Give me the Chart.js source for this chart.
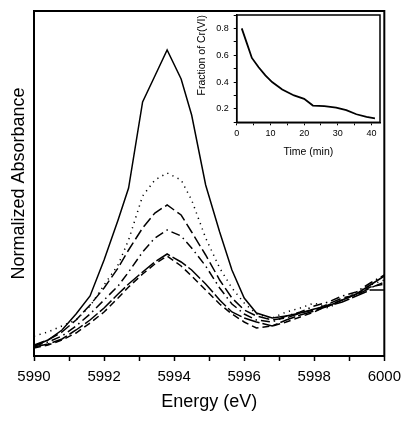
<!DOCTYPE html>
<html><head><meta charset="utf-8">
<script src="https://cdn.jsdelivr.net/npm/chart.js@4/dist/chart.umd.min.js"></script>
<style>
html,body{margin:0;padding:0;background:#fff;}
#wrap{position:relative;width:408px;height:423px;background:#fff;}
#main{position:absolute;left:0;top:0;}
#inset{position:absolute;left:185px;top:0;}
</style></head><body>
<div id="wrap">
<canvas id="main" width="408" height="423"></canvas>
<canvas id="inset" width="215" height="170"></canvas>
</div>
<script>
// ---------- data ----------
const energy = [5990.0, 5990.4, 5990.8, 5991.2, 5991.6, 5992.0, 5992.4, 5992.7, 5993.1, 5993.45, 5993.8, 5994.2, 5994.5, 5994.9, 5995.3, 5995.65, 5996.0, 5996.35, 5996.8, 5997.2, 5997.6, 5998.0, 5998.4, 5998.8, 5999.2, 5999.6, 6000.0];
const spectrum1 = [10, 16, 26, 42, 60, 96, 136, 168, 254, 280, 306, 277, 241, 171, 124, 86, 58, 43, 38, 40, 43, 47, 50, 56, 62, 71, 80];
const spectrum2 = [20, 24, 30, 36, 50, 71, 91, 116, 160, 176, 183, 176, 156, 118, 88, 68, 53, 42, 38, 44, 48, 53, 48, 56, 64, 71, 76];
const spectrum3 = [11, 16, 24, 36, 51, 68, 88, 106, 128, 143, 151, 141, 124, 101, 76, 58, 46, 40, 36, 38, 43, 46, 52, 58, 61, 68, 74];
const spectrum4 = [10, 14, 20, 30, 42, 56, 70, 84, 104, 118, 126, 120, 108, 90, 68, 52, 42, 36, 34, 40, 44, 50, 54, 60, 64, 73, 81];
const spectrum5 = [9, 12, 17, 26, 36, 48, 62, 72, 84, 94, 102, 94, 86, 72, 56, 44, 38, 34, 30, 36, 41, 45, 50, 54, 60, 66, 66];
const spectrum6 = [8, 11, 16, 23, 33, 44, 58, 69, 82, 92, 100, 90, 80, 66, 52, 42, 34, 28, 30, 34, 39, 44, 51, 56, 62, 69, 72];
const energyTickLabels = ['5990', '5992', '5994', '5996', '5998', '6000'];

const timeMin = [1.5, 3.0, 4.5, 6.5, 8.5, 10.5, 13.5, 17, 20, 22.6, 26, 29.5, 32.5, 35.5, 38.5, 41];
const fractionCrVI = [0.80, 0.69, 0.58, 0.51, 0.45, 0.40, 0.345, 0.30, 0.275, 0.225, 0.22, 0.21, 0.19, 0.16, 0.14, 0.13];
const timeTickLabels = ['0', '10', '20', '30', '40'];
const fractionTickLabels = ['0.2', '0.4', '0.6', '0.8'];

// ---------- helpers ----------
const FONT = "'Liberation Sans', Arial, Helvetica, sans-serif";
const spectra = [spectrum1, spectrum2, spectrum3, spectrum4, spectrum5, spectrum6];
const dashes = [[], [1.2, 4.5], [11, 4], [9, 4, 1.5, 4], [16, 3], [7, 4]];
const pairs = (xs, ys) => xs.map((x, i) => ({x: x, y: ys[i]}));

const boxPlugin = (w) => ({
  id: 'box' + w,
  afterDraw(chart) {
    const a = chart.chartArea, c = chart.ctx;
    c.save();
    c.strokeStyle = '#000';
    c.lineWidth = w;
    c.strokeRect(a.left, a.top, a.right - a.left, a.bottom - a.top);
    c.restore();
  }
});

// ---------- main chart ----------
new Chart(document.getElementById('main'), {
  type: 'line',
  data: {
    datasets: spectra.map((s, i) => ({
      data: pairs(energy, s),
      borderColor: '#000',
      borderWidth: 1.5,
      borderDash: dashes[i],
      pointRadius: 0,
      fill: false,
      tension: 0
    }))
  },
  options: {
    responsive: false,
    animation: false,
    devicePixelRatio: 1,
    layout: {padding: {left: 0, top: 11, right: 22, bottom: 0}},
    plugins: {legend: {display: false}, tooltip: {enabled: false}},
    scales: {
      x: {
        type: 'linear', min: 5990, max: 6000,
        afterFit(s) { s.height = 67; },
        ticks: {
          stepSize: 1, autoSkip: false, maxRotation: 0, color: '#000', padding: 7,
          font: {family: FONT, size: 15},
          callback: (v) => energyTickLabels.includes(String(v)) ? String(v) : ''
        },
        grid: {display: true, drawOnChartArea: false, drawTicks: true, tickLength: 5, color: '#000', tickWidth: 1.5},
        border: {display: true, color: '#000', width: 2},
        title: {display: true, text: 'Energy (eV)', color: '#000', font: {family: FONT, size: 18}, padding: {top: 0, bottom: 10}}
      },
      y: {
        type: 'linear', min: 0, max: 345,
        afterFit(s) { s.width = 34; },
        ticks: {display: false},
        grid: {display: false},
        border: {display: true, color: '#000', width: 2},
        title: {display: true, text: 'Normalized Absorbance', color: '#000', font: {family: FONT, size: 18}, padding: {top: 8, bottom: 0}}
      }
    }
  },
  plugins: [boxPlugin(2)]
});

// ---------- inset chart ----------
new Chart(document.getElementById('inset'), {
  type: 'line',
  data: {
    datasets: [{
      data: pairs(timeMin, fractionCrVI),
      borderColor: '#000',
      borderWidth: 1.8,
      pointRadius: 0,
      fill: false,
      tension: 0
    }]
  },
  options: {
    responsive: false,
    animation: false,
    devicePixelRatio: 1,
    layout: {padding: {left: 0, top: 15, right: 20, bottom: 0}},
    plugins: {legend: {display: false}, tooltip: {enabled: false}},
    scales: {
      x: {
        type: 'linear', min: 0, max: 42.5,
        afterFit(s) { s.height = 47.7; },
        ticks: {
          stepSize: 5, includeBounds: false, autoSkip: false, maxRotation: 0, color: '#000', padding: 3,
          font: {family: FONT, size: 9},
          callback: (v) => timeTickLabels.includes(String(v)) ? String(v) : ''
        },
        grid: {display: true, drawOnChartArea: false, drawTicks: true, tickLength: 3, color: '#000', tickWidth: 1},
        border: {display: true, color: '#000', width: 1.5},
        title: {display: true, text: 'Time (min)', color: '#000', font: {family: FONT, size: 10.5}, padding: {top: 0, bottom: 12}}
      },
      y: {
        type: 'linear', min: 0.1, max: 0.9,
        afterFit(s) { s.width = 51.7; },
        ticks: {
          stepSize: 0.1, includeBounds: false, autoSkip: false, color: '#000', padding: 5,
          font: {family: FONT, size: 9},
          callback: (v) => { const t = (Math.round(v * 10) / 10).toFixed(1); return fractionTickLabels.includes(t) ? t : ''; }
        },
        grid: {display: true, drawOnChartArea: false, drawTicks: true, tickLength: 3, color: '#000', tickWidth: 1},
        border: {display: true, color: '#000', width: 1.5},
        title: {display: true, text: 'Fraction of Cr(VI)', align: 'end', color: '#000', font: {family: FONT, size: 10.5}, padding: {top: 10.7, bottom: 0}}
      }
    }
  },
  plugins: [boxPlugin(1.5)]
});
</script>
</body></html>
